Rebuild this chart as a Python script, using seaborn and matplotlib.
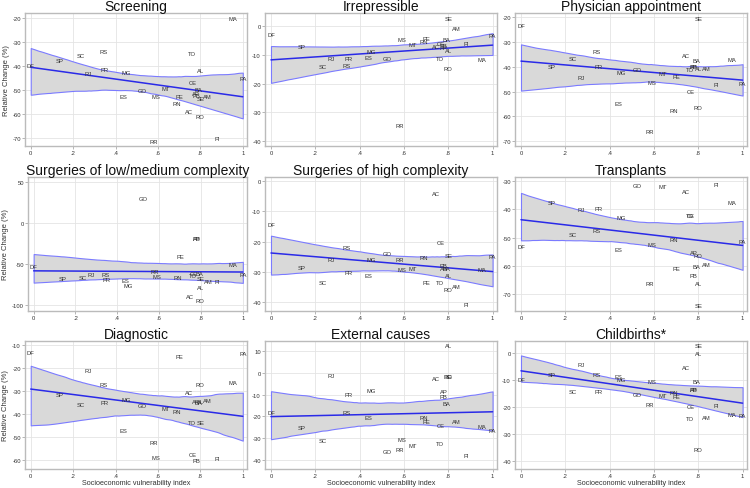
import matplotlib
matplotlib.use('Agg')
import matplotlib.pyplot as plt
import numpy as np
import seaborn as sns

states = ['AC', 'AL', 'AM', 'AP', 'BA', 'CE', 'DF', 'ES', 'GO', 'MA', 'MG', 'MS', 'MT', 'PA',
          'PB', 'PE', 'PI', 'PR', 'RJ', 'RN', 'RO', 'RR', 'RS', 'SC', 'SE', 'SP', 'TO']
svi = [0.746, 0.80, 0.835, 0.78, 0.79, 0.766, 0.0, 0.438, 0.526, 0.953, 0.45, 0.589, 0.639, 1.0,
       0.78, 0.703, 0.879, 0.35, 0.273, 0.69, 0.797, 0.579, 0.342, 0.235, 0.80, 0.137, 0.761]

screening = [-58.9, -41.9, -52.5, -51.5, -49.7, -46.9, -39.7, -52.6, -50.1, -20.0, -42.8, -52.6, -49.4, -45.3,
             -52.3, -52.6, -70.0, -41.5, -43.2, -55.7, -60.8, -71.4, -33.9, -35.6, -53.5, -37.8, -34.6]
irrepressible = [-7.2, -8.4, -0.9, -7.5, -4.6, -6.3, -2.9, -10.9, -11.5, -11.7, -9.0, -4.6, -6.6, -3.4,
                 -6.7, -4.5, -6.1, -11.5, -11.3, -5.3, -14.9, -34.6, -13.6, -14.1, 2.5, -7.2, -11.3]
physician = [-35.3, -40.8, -40.8, -39.9, -37.6, -49.8, -23.4, -54.7, -41.2, -37.2, -42.4, -46.3, -42.8, -46.9,
             -39.8, -43.9, -47.2, -40.0, -44.2, -57.7, -56.6, -66.0, -33.9, -36.6, -20.4, -39.7, -41.2]
surg_low = [-89.8, -78.7, -72.0, -19.0, -62.0, -61.5, -52.9, -70.0, 30.3, -51.2, -76.6, -66.0, np.nan, -63.0,
            -19.5, -40.6, -72.0, -69.3, -63.5, -67.2, -95.0, -59.0, -63.0, -67.2, -68.0, -68.0, -64.0]
surg_high = [-4.1, -31.2, -35.0, -28.9, -28.9, -20.3, -14.3, -31.2, -23.8, -29.1, -26.1, -29.3, -28.8, -24.9,
             -27.8, -33.6, -41.0, -30.2, -26.1, -25.4, -36.0, -26.1, -21.9, -33.6, -24.7, -28.6, -33.6]
transplants = [-33.8, -66.1, -59.5, -55.2, -60.4, -42.1, -53.1, -54.3, -31.4, -37.4, -42.9, -52.6, -32.0, -51.4,
               -63.3, -60.8, -31.2, -39.5, -40.0, -50.5, -56.2, -66.3, -47.5, -49.0, -73.9, -37.4, -42.1]
diagnostic = [-30.6, -34.3, -33.9, -34.6, -34.9, -57.6, -13.1, -47.0, -36.0, -26.4, -33.4, -58.9, -37.4, -13.7,
              -60.0, -15.0, -59.3, -35.1, -21.0, -38.9, -27.0, -52.4, -27.1, -35.7, -43.7, -31.3, -43.7]
external = [-2.7, 12.3, -22.5, -8.7, -14.1, -23.9, -18.4, -20.3, -36.0, -24.4, -8.2, -30.7, -33.4, -26.2,
            -10.9, -22.1, -37.9, -9.9, -1.2, -20.6, -1.5, -34.9, -18.4, -31.2, -1.5, -25.1, -32.4]
childbirths = [-5.1, 0.0, -23.8, -13.4, -10.4, -19.6, -9.8, -8.6, -15.3, -22.9, -9.8, -10.4, -15.5, -23.1,
               -13.6, -16.1, -19.2, -14.3, -4.2, -14.5, -35.7, -18.9, -7.8, -14.3, 3.1, -7.8, -24.3]

titles = ['Screening', 'Irrepressible', 'Physician appointment',
          'Surgeries of low/medium complexity', 'Surgeries of high complexity', 'Transplants',
          'Diagnostic', 'External causes', 'Childbirths*']
series = [screening, irrepressible, physician, surg_low, surg_high, transplants,
          diagnostic, external, childbirths]
yticks = [[-20, -30, -40, -50, -60, -70], [0, -10, -20, -30, -40], [-20, -30, -40, -50, -60, -70],
          [50, 0, -50, -100], [0, -10, -20, -30, -40], [-30, -40, -50, -60, -70],
          [-10, -20, -30, -40, -50, -60], [10, 0, -10, -20, -30, -40], [0, -10, -20, -30, -40]]
ylims = [(-73.3, -17.8), (-41.6, 4.4), (-72, -18.3),
         (-107.8, 56.1), (-43, 1.4), (-76, -28.5),
         (-63.9, -8.1), (-44, 14.5), (-43, 4.6)]
xticks = [0, 0.2, 0.4, 0.6, 0.8, 1]
xticklabels = ['0', '.2', '.4', '.6', '.8', '1']

sns.set_style('whitegrid')
plt.rcParams['font.family'] = ['Liberation Sans', 'DejaVu Sans']
plt.rcParams['axes.unicode_minus'] = False

W, H = 750, 489
fig = plt.figure(figsize=(7.5, 4.89), dpi=100)

# pixel boxes of the panels (left, right, top, bottom)
cols = [(25, 247), (265, 497), (515, 747)]
rows = [(14, 147), (178, 312), (342, 470)]

for i, (title, vals) in enumerate(zip(titles, series)):
    r, c = divmod(i, 3)
    l, rr = cols[c]
    t, b = rows[r]
    if i == 3:
        l = 28
    ax = fig.add_axes([l / W, 1 - b / H, (rr - l) / W, (b - t) / H])

    sns.regplot(x=np.array(svi), y=np.array(vals, dtype=float), ax=ax, scatter=False,
                ci=95, n_boot=1000, seed=3, color='#2a2ae8',
                line_kws=dict(color='#2a2ae8', lw=1.1, zorder=3))
    band = ax.collections[0]
    band.set_alpha(1)
    band.set_facecolor('#d9d9d9')
    band.set_edgecolor('#7b7bff')
    band.set_linewidth(0.8)
    band.set_zorder(2)

    for s, x, y in zip(states, svi, vals):
        if np.isnan(y):
            continue
        ax.text(x, y, s, ha='center', va='center', fontsize=4.2, color='#333333', zorder=4)

    ax.set_xlim(-0.027, 1.02)
    ax.set_ylim(*ylims[i])
    ax.set_xticks(xticks)
    ax.set_xticklabels(xticklabels)
    ax.set_yticks(yticks[i])
    ax.tick_params(labelsize=4.2, length=2, width=0.5, color='#999999', pad=1,
                   labelcolor='#333333', left=True, bottom=True)
    ax.grid(True, color='#e4e4e4', lw=0.6)
    for sp in ax.spines.values():
        sp.set_color('#bbbbbb')
        sp.set_linewidth(1)
    ax.set_title(title, fontsize=10, pad=2, color='#111111')
    ax.set_xlabel('Socioeconomic vulnerability index' if r == 2 else '', fontsize=5.2,
                  color='#333333', labelpad=0.5)
    ax.set_ylabel('Relative Change (%)' if c == 0 else '', fontsize=5.5,
                  color='#333333', labelpad=2)

fig.savefig('out.png', dpi=100)
